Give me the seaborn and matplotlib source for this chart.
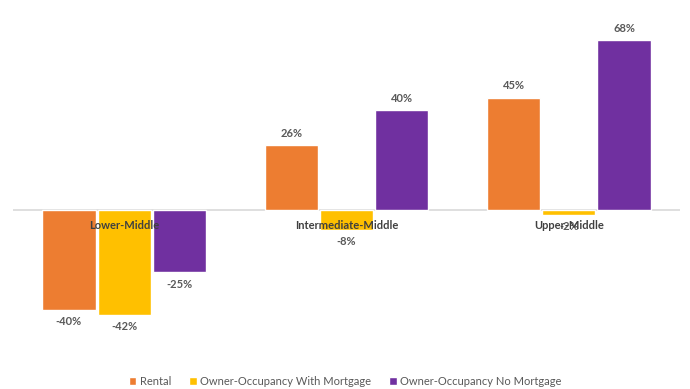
import matplotlib
matplotlib.use("Agg")
import matplotlib.pyplot as plt
import seaborn as sns
import pandas as pd

# Change by income band and tenure type (percent)
categories = ["Lower-Middle", "Intermediate-Middle", "Upper-Middle"]
series = ["Rental", "Owner-Occupancy With Mortgage", "Owner-Occupancy No Mortgage"]
rental = [-40, 26, 45]
with_mortgage = [-42, -8, -2]
no_mortgage = [-25, 40, 68]

colors = ["#ED7D31", "#FFC000", "#7030A0"]
label_gray = "#595959"

sns.set_theme(style="white")
plt.rcParams["font.family"] = ["Lato", "DejaVu Sans"]

df = pd.DataFrame({
    "band": categories * 3,
    "tenure": [s for s in series for _ in categories],
    "value": rental + with_mortgage + no_mortgage,
})

fig = plt.figure(figsize=(6.9, 3.89), dpi=100)
ax = fig.add_axes([0.0188, 0.139, 0.9667, 0.835])

sns.barplot(data=df, x="band", y="value", hue="tenure", order=categories,
            hue_order=series, palette=colors, width=0.745, gap=0.035,
            saturation=1, errorbar=None, ax=ax)

ax.set_xlim(-0.5, 2.5)
ax.set_ylim(-50, 80)
ax.axhline(0, color="#D9D9D9", lw=1.2, zorder=0)

for cont in ax.containers:
    ax.bar_label(cont, fmt="{:.0f}%", padding=4.5, fontsize=8,
                 fontweight="bold", color=label_gray)

# Category names sit just under the zero line
for i, name in enumerate(categories):
    ax.annotate(name, xy=(i, 0), xytext=(0, -11), textcoords="offset points",
                ha="center", va="center", fontsize=8, fontweight="bold",
                color="#404040")

ax.set_xticks([])
ax.set_yticks([])
ax.set_xlabel("")
ax.set_ylabel("")
for s in ax.spines.values():
    s.set_visible(False)

handles, labels = ax.get_legend_handles_labels()
ax.legend_.remove()
fig.legend(handles, labels, loc="center", bbox_to_anchor=(0.5, 0.02),
           ncol=3, frameon=False, fontsize=8, handlelength=0.7,
           handleheight=0.7, handletextpad=0.3, columnspacing=1.6,
           labelcolor=label_gray)

fig.savefig("out.png", dpi=100)
